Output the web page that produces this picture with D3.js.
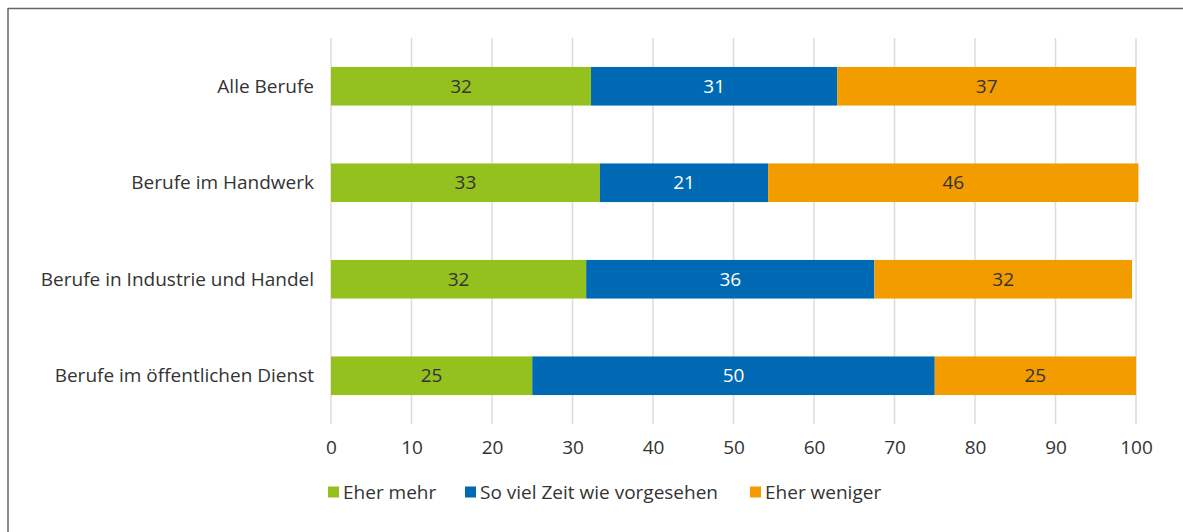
<!DOCTYPE html>
<html>
<head>
<meta charset="utf-8">
<script src="https://cdn.jsdelivr.net/npm/d3@7"></script>
<style>
  body { margin: 0; background: #fff; }
  svg text { font-family: "Open Sans", "Noto Sans", sans-serif; fill: #333; }
</style>
</head>
<body>
<script>
// Stacked horizontal bars, share in percent

const w = 1183;
const h = 532;

const categories = [
  "Alle Berufe",
  "Berufe im Handwerk",
  "Berufe in Industrie und Handel",
  "Berufe im öffentlichen Dienst"
];
const seriesNames = ["Eher mehr", "So viel Zeit wie vorgesehen", "Eher weniger"];
const seriesColors = ["#95c11f", "#0069b4", "#f39c00"];

// values as drawn (labels are rounded)
const eherMehr = [32.3, 33.4, 31.7, 25.0];
const soViel = [30.6, 20.9, 35.8, 50.0];
const eherWeniger = [37.1, 46.0, 32.0, 25.0];
const labelMehr = [32, 33, 32, 25];
const labelSoViel = [31, 21, 36, 50];
const labelWeniger = [37, 46, 32, 25];
const xTicks = [0, 10, 20, 30, 40, 50, 60, 70, 80, 90, 100];

const fs = 19;

const rows = categories.map((c, i) => ({
  cat: c,
  v: [eherMehr[i], soViel[i], eherWeniger[i]],
  l: [labelMehr[i], labelSoViel[i], labelWeniger[i]]
}));

const svg = d3.select("body")
  .append("svg")
  .attr("width", w)
  .attr("height", h);

// frame: top and left only
svg.append("line").attr("x1", 8).attr("x2", w).attr("y1", 8.5).attr("y2", 8.5)
  .attr("stroke", "#666").attr("stroke-width", 1.5);
svg.append("line").attr("x1", 8).attr("x2", 8).attr("y1", 8).attr("y2", h)
  .attr("stroke", "#666").attr("stroke-width", 1.5);

const x_scale = d3.scaleLinear()
  .domain([0, 100])
  .range([331, 1136]);

const y_scale = d3.scaleBand()
  .domain(categories)
  .range([38, 424])
  .paddingInner(0.6)
  .paddingOuter(0.3);

// gridlines
svg.append("g")
  .selectAll("line")
  .data(xTicks)
  .enter()
  .append("line")
  .attr("x1", d => x_scale(d))
  .attr("x2", d => x_scale(d))
  .attr("y1", 38)
  .attr("y2", 424)
  .attr("stroke", "#dcdcdc")
  .attr("stroke-width", 1.5);

// stacked segments
const segs = [];
rows.forEach(r => {
  let acc = 0;
  r.v.forEach((v, k) => {
    segs.push({ cat: r.cat, k: k, x0: acc, x1: acc + v, label: r.l[k] });
    acc += v;
  });
});

svg.append("g")
  .selectAll("rect")
  .data(segs)
  .enter()
  .append("rect")
  .attr("x", d => x_scale(d.x0))
  .attr("width", d => x_scale(d.x1) - x_scale(d.x0))
  .attr("y", d => y_scale(d.cat))
  .attr("height", y_scale.bandwidth())
  .attr("fill", d => seriesColors[d.k]);

svg.append("g")
  .selectAll("text")
  .data(segs)
  .enter()
  .append("text")
  .attr("x", d => (x_scale(d.x0) + x_scale(d.x1)) / 2)
  .attr("y", d => y_scale(d.cat) + y_scale.bandwidth() / 2)
  .attr("dy", "0.35em")
  .attr("text-anchor", "middle")
  .attr("font-size", fs)
  .style("fill", d => d.k === 1 ? "#fff" : "#333")
  .text(d => d.label);

// category labels
svg.append("g")
  .selectAll("text")
  .data(categories)
  .enter()
  .append("text")
  .attr("x", 314)
  .attr("y", d => y_scale(d) + y_scale.bandwidth() / 2)
  .attr("dy", "0.35em")
  .attr("text-anchor", "end")
  .attr("font-size", fs)
  .text(d => d);

// x axis labels
const x_axis = d3.axisBottom(x_scale).tickValues(xTicks).tickSize(0).tickPadding(0);
const gx = svg.append("g")
  .attr("transform", "translate(0,440)")
  .call(x_axis);
gx.select(".domain").remove();
gx.selectAll("text")
  .attr("font-size", fs)
  .attr("font-family", null)
  .attr("dy", "0.71em")
  .style("fill", "#333");

// legend
const legendX = [328, 465, 750];
const lg = svg.append("g")
  .selectAll("g")
  .data(seriesNames)
  .enter()
  .append("g")
  .attr("transform", (d, i) => `translate(${legendX[i]},492)`);
lg.append("rect")
  .attr("x", 0).attr("y", -5.5)
  .attr("width", 11).attr("height", 11)
  .attr("fill", (d, i) => seriesColors[i]);
lg.append("text")
  .attr("x", 15)
  .attr("dy", "0.35em")
  .attr("font-size", fs)
  .text(d => d);
</script>
</body>
</html>
